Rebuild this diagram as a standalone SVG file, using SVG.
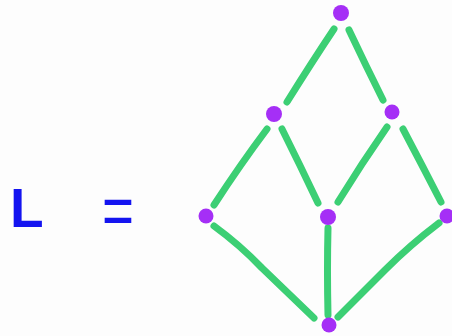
<svg xmlns="http://www.w3.org/2000/svg" width="452" height="336" viewBox="0 0 452 336">
<style>
.e{fill:none;stroke:#3ccf74;stroke-width:7;stroke-linecap:round;stroke-linejoin:round}
.n{fill:#a52ff6}
.t{fill:#1414f0;font-family:"Liberation Sans",Arial,sans-serif}
</style>
<rect width="452" height="336" fill="#fdfdfd"/>
<text class="t" x="10" y="227" font-size="55" font-weight="bold">L</text>
<text class="t" x="102" y="235" font-size="72" textLength="32" lengthAdjust="spacingAndGlyphs">=</text>
<g id="edges">
<path class="e" d="M334,29 Q312,62 287,102"/>
<path class="e" d="M349,30 Q366,66 383,100"/>
<path class="e" d="M267,129 Q240,165 214,205"/>
<path class="e" d="M282,129 Q300,165 318,203"/>
<path class="e" d="M387,127 Q362,163 338,202"/>
<path class="e" d="M403,129 Q422,165 441,202"/>
<path class="e" d="M214,226 Q240,245 262,268 Q290,295 314,318"/>
<path class="e" d="M328,228 Q327,270 328,315"/>
<path class="e" d="M439,223 Q410,245 385,270 Q360,295 338,317"/>
</g>
<g id="n-top"><circle class="n" cx="341" cy="13" r="8"/></g>
<g id="n-ml"><circle class="n" cx="274" cy="114" r="8"/></g>
<g id="n-mr"><circle class="n" cx="392" cy="112" r="7.5"/></g>
<g id="n-bl"><circle class="n" cx="206" cy="216" r="7.5"/></g>
<g id="n-bc"><circle class="n" cx="328" cy="217" r="8"/></g>
<g id="n-br"><circle class="n" cx="447" cy="216" r="7.5"/></g>
<g id="n-bot"><circle class="n" cx="329" cy="325" r="7.5"/></g>
</svg>
